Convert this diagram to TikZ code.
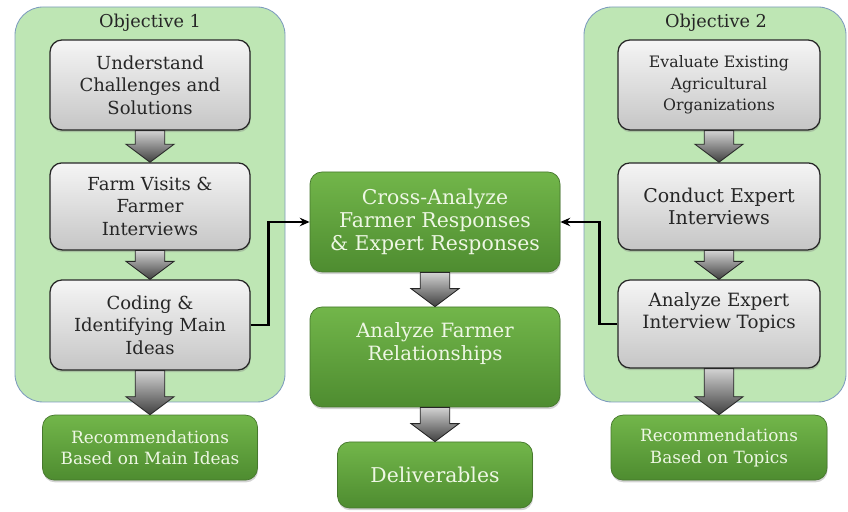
\documentclass[tikz,border=0pt]{standalone}
\usepackage{fontspec}
\setmainfont{DejaVu Serif}
\usetikzlibrary{calc,shadows,arrows.meta}

\definecolor{panelfill}{RGB}{190,230,180}
\definecolor{paneledge}{RGB}{125,155,190}
\definecolor{greentop}{RGB}{114,182,74}
\definecolor{greenbot}{RGB}{78,140,48}
\definecolor{greenedge}{RGB}{70,120,45}
\definecolor{greentext}{RGB}{238,247,228}

\tikzset{
  panel/.style={draw=paneledge,fill=panelfill,rounded corners=0.7cm,line width=0.6pt},
  graybox/.style={draw=black!85,line width=0.9pt,rounded corners=0.3cm,
    top color=gray!8,bottom color=gray!45,align=center,text=black!85,
    drop shadow={shadow xshift=0.4pt,shadow yshift=-1.6pt,opacity=0.35}},
  greenbox/.style={draw=greenedge,line width=0.5pt,rounded corners=0.3cm,
    top color=greentop,bottom color=greenbot,text=greentext,align=center,
    drop shadow={shadow xshift=0.4pt,shadow yshift=-1.6pt,opacity=0.35}},
  blockarrow/.style={draw=black!85,line width=0.6pt,top color=gray!35,bottom color=black!75},
  link/.style={line width=2pt,-{Stealth[length=7pt,width=6pt]}}
}

% fat down arrow from the bottom of #1 to the top of #2
\newcommand{\blockarr}[2]{%
  \coordinate (s) at (#1.south -| #2.north);
  \path[blockarrow] ($(s)+(-0.37,0)$) -- ($(s)+(0.37,0)$) -- ($(#2.north)+(0.37,0.45)$)
    -- ($(#2.north)+(0.6,0.45)$) -- (#2.north) -- ($(#2.north)+(-0.6,0.45)$)
    -- ($(#2.north)+(-0.37,0.45)$) -- cycle;}

\begin{document}
\begin{tikzpicture}
\useasboundingbox (0,0) rectangle (21.2,12.8);

\draw[panel] (0.375,2.75) rectangle (7.125,12.625);
\draw[panel] (14.6,2.75) rectangle (21.15,12.625);
\node[font=\fontsize{12.6}{14}\selectfont,text=black!85] (obj1) at (3.75,12.24) {Objective 1};
\node[font=\fontsize{12.6}{14}\selectfont,text=black!85] (obj2) at (17.9,12.24) {Objective 2};

% objective 1
\node[graybox,minimum width=5cm,minimum height=2.25cm,font=\fontsize{12.8}{16}\selectfont] (under) at (3.75,10.675)
  {Understand\\Challenges and\\Solutions};
\node[graybox,minimum width=5cm,minimum height=2.175cm,font=\fontsize{12.8}{16}\selectfont] (visit) at (3.75,7.64)
  {Farm Visits \&\\Farmer\\Interviews};
\node[graybox,minimum width=5cm,minimum height=2.25cm,font=\fontsize{12.8}{16}\selectfont] (code) at (3.75,4.675)
  {Coding \&\\Identifying Main\\Ideas};
\node[greenbox,minimum width=5.375cm,minimum height=1.625cm,font=\fontsize{12}{15.4}\selectfont] (rec1) at (3.75,1.61)
  {Recommendations\\Based on Main Ideas};

% objective 2
\node[graybox,minimum width=5.05cm,minimum height=2.25cm,font=\fontsize{11.2}{15.4}\selectfont] (eval) at (17.975,10.675)
  {Evaluate Existing\\Agricultural\\Organizations};
\node[graybox,minimum width=5.05cm,minimum height=2.175cm,font=\fontsize{13.5}{15.5}\selectfont] (expert) at (17.975,7.64)
  {Conduct Expert\\Interviews};
\node[graybox,minimum width=5.05cm,minimum height=2.2cm,font=\fontsize{13}{15.4}\selectfont] (topics) at (17.975,4.7)
  {Analyze Expert\\Interview Topics\\[4pt]};
\node[greenbox,minimum width=5.4cm,minimum height=1.625cm,font=\fontsize{12}{15.4}\selectfont] (rec2) at (17.975,1.61)
  {Recommendations\\Based on Topics};

% middle
\node[greenbox,minimum width=6.25cm,minimum height=2.5cm,font=\fontsize{14.5}{16.5}\selectfont] (cross) at (10.875,7.25)
  {Cross-Analyze\\Farmer Responses\\\& Expert Responses};
\node[greenbox,minimum width=6.25cm,minimum height=2.5cm,font=\fontsize{14}{16.5}\selectfont] (relat) at (10.875,3.875)
  {Analyze Farmer\\Relationships\\[6pt]};
\node[greenbox,minimum width=4.875cm,minimum height=1.65cm,font=\fontsize{14.5}{17}\selectfont] (deliv) at (10.875,0.925)
  {Deliverables};

\blockarr{under}{visit}
\blockarr{visit}{code}
\blockarr{code}{rec1}
\blockarr{eval}{expert}
\blockarr{expert}{topics}
\blockarr{topics}{rec2}
\blockarr{cross}{relat}
\blockarr{relat}{deliv}

\draw[link] (code.east) -- ++(0.45,0) |- (cross.west);
\draw[link] (topics.west) -- ++(-0.45,0) |- (cross.east);

\end{tikzpicture}
\end{document}
